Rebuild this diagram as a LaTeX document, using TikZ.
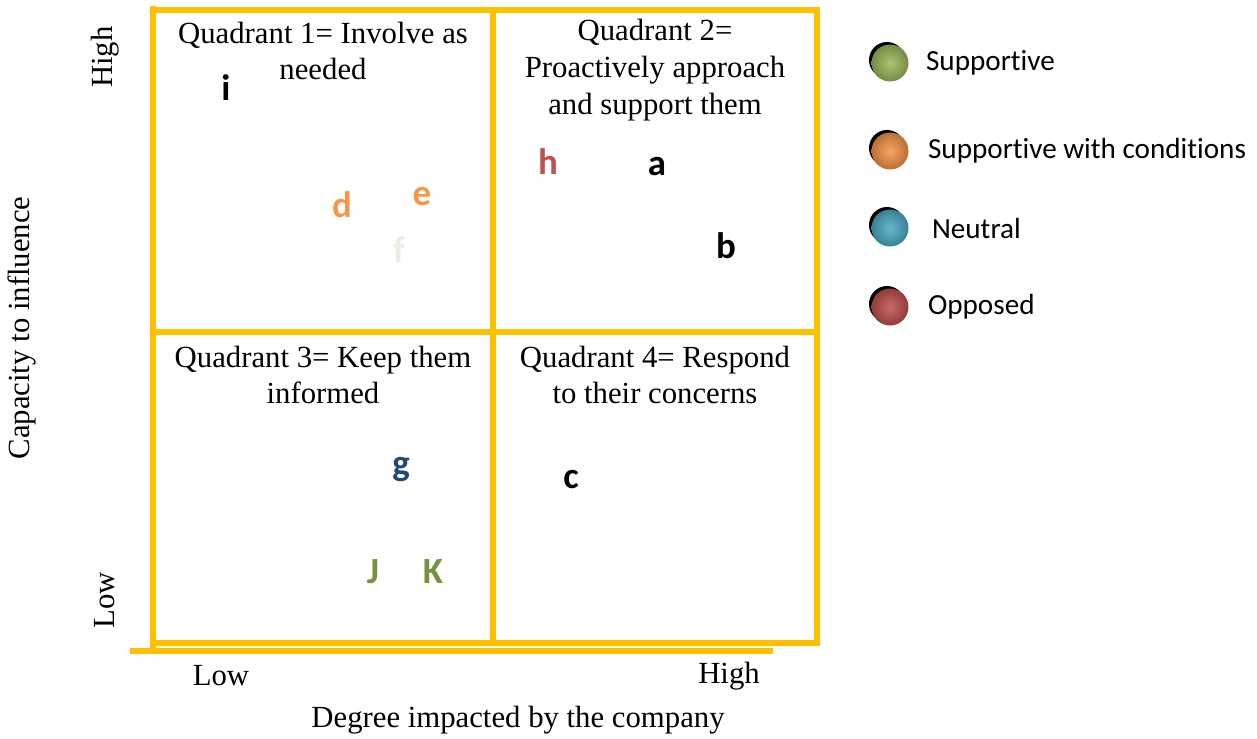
\documentclass[tikz,border=0pt]{standalone}
\usepackage{fontspec}
\setmainfont{Liberation Serif}
\newfontfamily\calibri[Ligatures=NoCommon]{Carlito}
\usetikzlibrary{positioning, calc, shadings}

\definecolor{gridgold}{HTML}{FFC000}
\definecolor{suppgreen}{HTML}{9BBB59}
\definecolor{condorange}{HTML}{F79646}
\definecolor{neutblue}{HTML}{4BACC6}
\definecolor{oppred}{HTML}{C0504D}
\definecolor{letgreen}{HTML}{77933C}
\definecolor{letblue}{HTML}{1F497D}
\definecolor{letbeige}{HTML}{EEECE1}

\begin{document}
\begin{tikzpicture}[
        x=0.02cm, y=-0.02cm,
        gridline/.style={draw=gridgold, line width=2.9pt},
        axisline/.style={draw=gridgold, line width=3.4pt},
        quad_title/.style={align=center, font=\fontsize{17.5}{21}\selectfont},
        axis_lbl/.style={font=\fontsize{17.5}{20}\selectfont},
        stake/.style={font=\calibri\bfseries\fontsize{21}{24}\selectfont},
        legend_txt/.style={anchor=west, font=\calibri\fontsize{16.6}{19}\selectfont},
        legend_ball/.style={circle, minimum size=0.74cm, inner sep=0pt}
    ]
        \useasboundingbox (0,0) rectangle (1257,738);

        % ================= CUADRICULA =================
        \path[gridline] (153,10) rectangle (817,643);
        \path[gridline] (493,10) -- (493,643);
        \path[gridline] (153,332) -- (817,332);
        % ejes
        \path[axisline] (153,6) -- (153,651);
        \path[axisline] (130,651) -- (773,651);

        % ================= TITULOS DE CUADRANTES =================
        \node[quad_title] (q1) at (323,51) {Quadrant 1= Involve as\\needed};
        \node[quad_title] (q2) at (655,70) {Quadrant 2=\\Proactively approach\\and support them};
        \node[quad_title] (q3) at (323,375) {Quadrant 3= Keep them\\informed};
        \node[quad_title] (q4) at (655,375) {Quadrant 4= Respond\\to their concerns};

        % ================= PARTES INTERESADAS =================
        \node[stake] (si) at (226,88) {i};
        \node[stake, text=condorange] (sd) at (342,205) {d};
        \node[stake, text=condorange] (se) at (422,197) {e};
        \node[stake, text=letbeige] (sf) at (399,250) {f};
        \node[stake, text=oppred] (sh) at (548,162) {h};
        \node[stake] (sa) at (657,167) {a};
        \node[stake] (sb) at (726,246) {b};
        \node[stake, text=letblue] (sg) at (401,470) {g};
        \node[stake, text=letgreen] (sj) at (373,572) {J};
        \node[stake, text=letgreen] (sk) at (433,572) {K};
        \node[stake] (sc) at (571,480) {c};

        % ================= EJES =================
        \node[axis_lbl, rotate=90] (yhigh) at (105,57) {High};
        \node[axis_lbl, rotate=90] (ylow) at (105,600) {Low};
        \node[axis_lbl, rotate=90] (ytitle) at (22,328) {Capacity to influence};
        \node[axis_lbl] (xlow) at (221,676) {Low};
        \node[axis_lbl] (xhigh) at (729,676) {High};
        \node[axis_lbl] (xtitle) at (518,720) {Degree impacted by the company};

        % ================= LEYENDA =================
        \foreach \name/\col/\yy/\gap/\txt in {lsupp/suppgreen/62/0.22/Supportive,
                lcond/condorange/150/0.26/Supportive with conditions,
                lneut/neutblue/227/0.34/Neutral,
                lopp/oppred/306/0.26/Opposed}{
            \fill[black] (887,\yy-2) circle[radius=0.36cm];
            \node[legend_ball, inner color=\col!85!white, outer color=\col!75!black] (\name) at (890,\yy+1) {};
            \node[legend_txt, right=\gap cm of \name] (\name-t) {\txt};
        }

    \end{tikzpicture}
\end{document}
